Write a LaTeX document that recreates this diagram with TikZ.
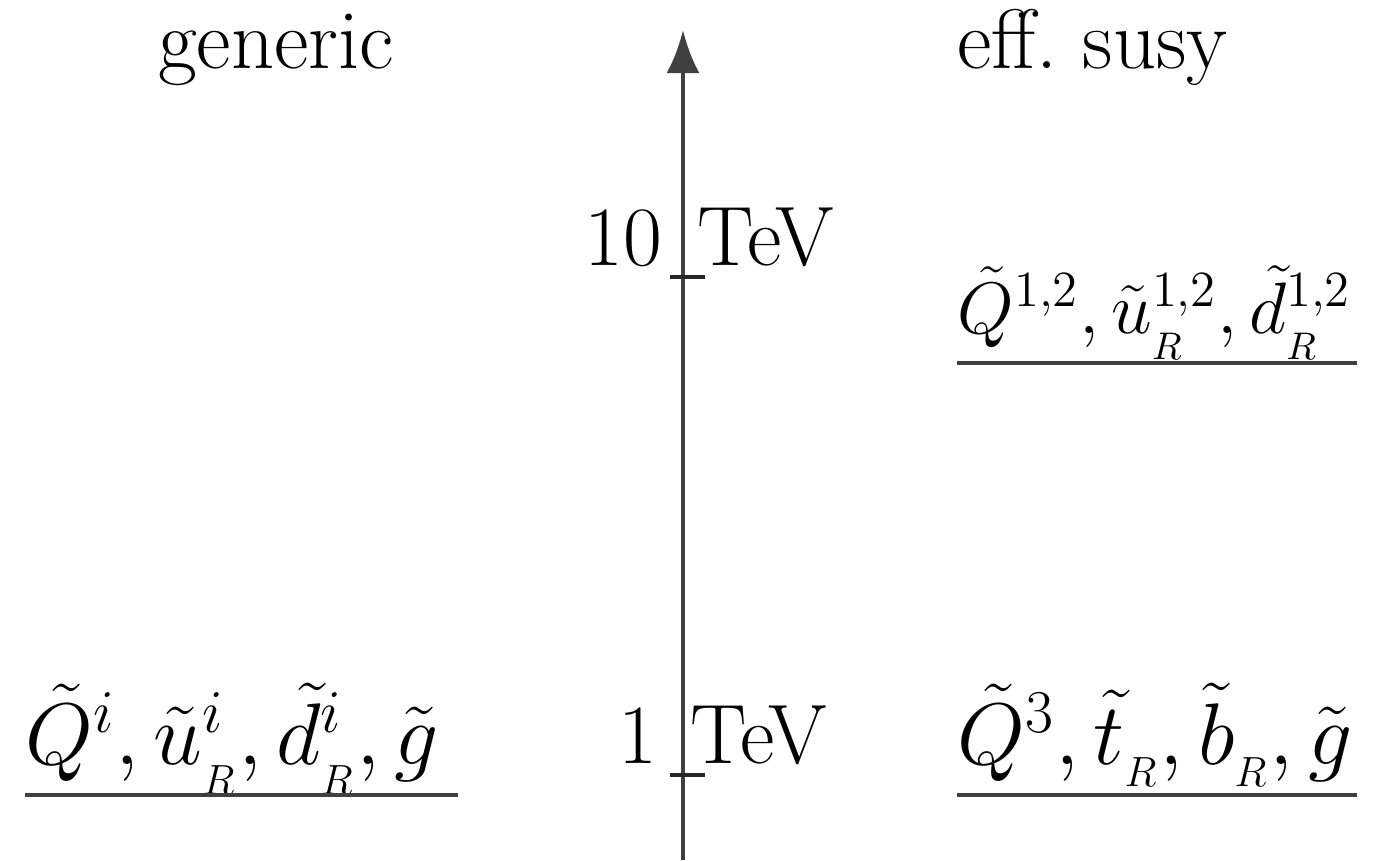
\documentclass[tikz,border=0pt]{standalone}
\usetikzlibrary{arrows.meta}
\begin{document}
\begin{tikzpicture}[x=0.01cm,y=-0.01cm,
  lvl/.style={draw=black!75,line width=1.2pt},
  axis/.style={draw=black!75,line width=1.2pt,-{Latex[length=4.3mm,width=3.3mm]}},
  tick/.style={draw=black!85,line width=1.1pt},
  lbl/.style={inner sep=0pt,font=\fontsize{24}{28}\selectfont},
  mlbl/.style={inner sep=0pt,font=\fontsize{23}{27}\selectfont}]
\useasboundingbox (0,0) rectangle (1394,860);
\coordinate (bot) at (683,860);
\coordinate (top) at (683,30);
\draw[axis] (bot) -- (top);
\coordinate (t10a) at (670,277); \coordinate (t10b) at (705,277);
\coordinate (t1a) at (670,775); \coordinate (t1b) at (705,775);
\draw[tick] (t10a) -- (t10b);
\draw[tick] (t1a) -- (t1b);
\node[lbl,anchor=base east] (n10) at (663,265) {10};
\node[lbl,anchor=base west] (tev10) at (697,265) {TeV};
\node[lbl,anchor=base east] (n1) at (658,763) {1};
\node[lbl,anchor=base west] (tev1) at (690,763) {TeV};
\node[lbl,anchor=base] (gen) at (276,68) {generic};
\node[lbl,anchor=base west] (eff) at (957,68) {eff.\ susy};
\node[mlbl,anchor=base west] (ltext) at (25,764) {$\tilde Q^i, \tilde u^i_{_R}, \tilde d^i_{_R}, \tilde g$};
\node[mlbl,anchor=base west,font=\fontsize{22}{26}\selectfont] (rtop) at (957,333) {$\tilde Q^{1,2}, \tilde u_{_R}^{1,2}, \tilde d_{_R}^{1,2}$};
\node[mlbl,anchor=base west] (rbot) at (957,764) {$\tilde Q^3, \tilde t_{_R}, \tilde b_{_R}, \tilde g$};
\coordinate (la) at (25,795); \coordinate (lb) at (458,795);
\coordinate (ra) at (957,363); \coordinate (rb) at (1357,363);
\coordinate (rc) at (957,795); \coordinate (rd) at (1357,795);
\draw[lvl] (la) -- (lb);
\draw[lvl] (ra) -- (rb);
\draw[lvl] (rc) -- (rd);
\end{tikzpicture}
\end{document}
